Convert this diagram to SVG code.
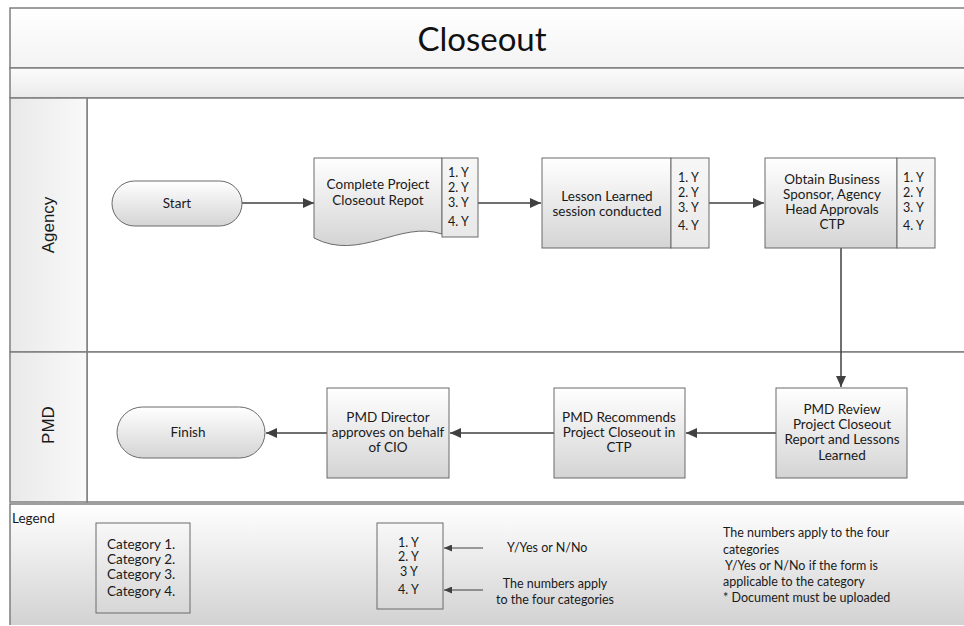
<svg xmlns="http://www.w3.org/2000/svg" width="964" height="626" viewBox="0 0 964 626">
<defs>
<linearGradient id="nodeGrad" x1="0" y1="0" x2="0" y2="1"><stop offset="0" stop-color="#ffffff"/><stop offset="1" stop-color="#d4d4d4"/></linearGradient>
<linearGradient id="sideGrad" x1="0" y1="0" x2="0" y2="1"><stop offset="0" stop-color="#f7f7f7"/><stop offset="1" stop-color="#e8e8e8"/></linearGradient>
<linearGradient id="legendGrad" x1="0" y1="0" x2="0" y2="1"><stop offset="0" stop-color="#ffffff"/><stop offset="1" stop-color="#d2d2d2"/></linearGradient>
<linearGradient id="headerGrad" x1="0" y1="0" x2="1" y2="0"><stop offset="0" stop-color="#e9e9e9"/><stop offset="1" stop-color="#f9f9f9"/></linearGradient>
<linearGradient id="titleGrad" x1="0" y1="0" x2="0" y2="1"><stop offset="0" stop-color="#ffffff"/><stop offset="1" stop-color="#f3f3f3"/></linearGradient>
<linearGradient id="bandGrad" x1="0" y1="0" x2="0" y2="1"><stop offset="0" stop-color="#fcfcfc"/><stop offset="1" stop-color="#eaeaea"/></linearGradient>
<marker id="arrow" markerUnits="userSpaceOnUse" markerWidth="12" markerHeight="10" refX="11" refY="5" orient="auto"><path d="M0,0 L11,5 L0,10 Z" fill="#404040"/></marker>
<marker id="arrowSmall" markerUnits="userSpaceOnUse" markerWidth="9" markerHeight="7" refX="8" refY="3.5" orient="auto"><path d="M0,0 L8,3.5 L0,7 Z" fill="#404040"/></marker>
</defs>
<style>
.pool{stroke:#7f7f7f;stroke-width:1.5}
.node{fill:url(#nodeGrad);stroke:#6a6a6a;stroke-width:1}
.side{fill:url(#sideGrad);stroke:#6a6a6a;stroke-width:1}
.plain{fill:none;stroke:#6a6a6a;stroke-width:1}
.t{font-family:Lato,"Liberation Sans",sans-serif;font-size:13.5px;fill:#1a1a1a;text-anchor:middle}
.s{font-family:Lato,"Liberation Sans",sans-serif;font-size:12.5px;fill:#1a1a1a}
.lg{font-family:Lato,"Liberation Sans",sans-serif;font-size:12.5px;fill:#1a1a1a}
.cat{font-family:Lato,"Liberation Sans",sans-serif;font-size:13.5px;fill:#1a1a1a}
.lane{font-family:"Liberation Sans",Arial,sans-serif;font-size:17px;fill:#1a1a1a;text-anchor:middle}
.conn{fill:none;stroke:#404040;stroke-width:1.5;marker-end:url(#arrow)}
.connS{fill:none;stroke:#404040;stroke-width:1;marker-end:url(#arrowSmall)}
</style>
<rect width="964" height="626" fill="#ffffff"/>
<g id="pool">
<rect class="pool" x="10" y="8" width="970" height="60" fill="url(#titleGrad)"/>
<text x="482" y="51" font-family="Lato,'Liberation Sans',sans-serif" font-size="33" fill="#111" text-anchor="middle">Closeout</text>
<rect class="pool" x="10" y="68" width="970" height="30" fill="url(#bandGrad)"/>
<rect class="pool" x="87" y="98" width="893" height="254" fill="#ffffff"/>
<rect class="pool" x="10" y="98" width="77" height="254" fill="url(#headerGrad)"/>
<text class="lane" transform="translate(54,225) rotate(-90)">Agency</text>
<rect class="pool" x="87" y="352" width="893" height="150" fill="#ffffff"/>
<rect class="pool" x="10" y="352" width="77" height="150" fill="url(#headerGrad)"/>
<text class="lane" transform="translate(54,425) rotate(-90)">PMD</text>
</g>
<g id="legend">
<rect x="10" y="504" width="970" height="121" fill="url(#legendGrad)"/>
<path class="pool" fill="none" d="M10,625 V504 H980"/>
<text class="cat" x="12" y="523">Legend</text>
<rect class="plain" x="96" y="523" width="94" height="90"/>
<text class="cat" x="107" y="549">Category 1.</text>
<text class="cat" x="107" y="564">Category 2.</text>
<text class="cat" x="107" y="579">Category 3.</text>
<text class="cat" x="107" y="596">Category 4.</text>
<rect class="plain" x="377" y="523" width="66" height="86"/>
<text class="lg" x="398" y="547">1. Y</text>
<text class="lg" x="398" y="561">2. Y</text>
<text class="lg" x="400" y="576">3  Y</text>
<text class="lg" x="398" y="594">4. Y</text>
<path class="connS" d="M483,548 H444"/>
<path class="connS" d="M483,590 H444"/>
<text class="lg" x="507" y="552">Y/Yes or N/No</text>
<text class="lg" x="555" y="588" text-anchor="middle">The numbers apply</text>
<text class="lg" x="555" y="604" text-anchor="middle">to the four categories</text>
<text class="lg" x="723" y="537">The numbers apply to the four</text>
<text class="lg" x="723" y="554">categories</text>
<text class="lg" x="725" y="570">Y/Yes or N/No if the form is</text>
<text class="lg" x="723" y="586">applicable to the category</text>
<text class="lg" x="723" y="602">* Document must be uploaded</text>
</g>
<g id="connectors">
<path class="conn" d="M242,203 H314"/>
<path class="conn" d="M478,203 H541"/>
<path class="conn" d="M709,203 H764"/>
<path class="conn" d="M841,248 V387"/>
<path class="conn" d="M776,433 H686"/>
<path class="conn" d="M554,433 H450"/>
<path class="conn" d="M327,433 H266"/>
</g>
<g id="start">
<rect class="node" x="112" y="181" width="130" height="45" rx="22.5"/>
<text class="t" x="177" y="208">Start</text>
</g>
<g id="complete-report">
<path class="node" d="M314,158 H442 V234 C400,220 360,262 314,238 Z"/>
<rect class="side" x="442" y="158" width="36" height="79"/>
<text class="t" x="378" y="189">Complete Project</text>
<text class="t" x="378" y="205">Closeout Repot</text>
<text class="s" x="448" y="177">1. Y</text>
<text class="s" x="448" y="192">2. Y</text>
<text class="s" x="448" y="207">3. Y</text>
<text class="s" x="448" y="226">4. Y</text>
</g>
<g id="lesson-learned">
<rect class="node" x="542" y="158" width="129" height="90"/>
<rect class="side" x="671" y="158" width="38" height="90"/>
<text class="t" x="607" y="201">Lesson Learned</text>
<text class="t" x="607" y="216">session conducted</text>
<text class="s" x="678" y="182">1. Y</text>
<text class="s" x="678" y="197">2. Y</text>
<text class="s" x="678" y="212">3. Y</text>
<text class="s" x="678" y="230">4. Y</text>
</g>
<g id="obtain-approvals">
<rect class="node" x="765" y="158" width="132" height="90"/>
<rect class="side" x="897" y="158" width="38" height="90"/>
<text class="t" x="832" y="184">Obtain Business</text>
<text class="t" x="832" y="199">Sponsor, Agency</text>
<text class="t" x="832" y="214">Head Approvals</text>
<text class="t" x="832" y="229">CTP</text>
<text class="s" x="903" y="182">1. Y</text>
<text class="s" x="903" y="197">2. Y</text>
<text class="s" x="903" y="212">3. Y</text>
<text class="s" x="903" y="230">4. Y</text>
</g>
<g id="pmd-review">
<rect class="node" x="776" y="388" width="131" height="90"/>
<text class="t" x="842" y="414">PMD Review</text>
<text class="t" x="842" y="429">Project Closeout</text>
<text class="t" x="842" y="444">Report and Lessons</text>
<text class="t" x="842" y="460">Learned</text>
</g>
<g id="pmd-recommends">
<rect class="node" x="554" y="388" width="131" height="90"/>
<text class="t" x="619" y="422">PMD Recommends</text>
<text class="t" x="619" y="437">Project Closeout in</text>
<text class="t" x="619" y="452">CTP</text>
</g>
<g id="pmd-director">
<rect class="node" x="327" y="388" width="122" height="90"/>
<text class="t" x="388" y="422">PMD Director</text>
<text class="t" x="388" y="437">approves on behalf</text>
<text class="t" x="388" y="452">of CIO</text>
</g>
<g id="finish">
<rect class="node" x="117" y="407" width="148" height="51" rx="25.5"/>
<text class="t" x="188" y="437">Finish</text>
</g>
</svg>
